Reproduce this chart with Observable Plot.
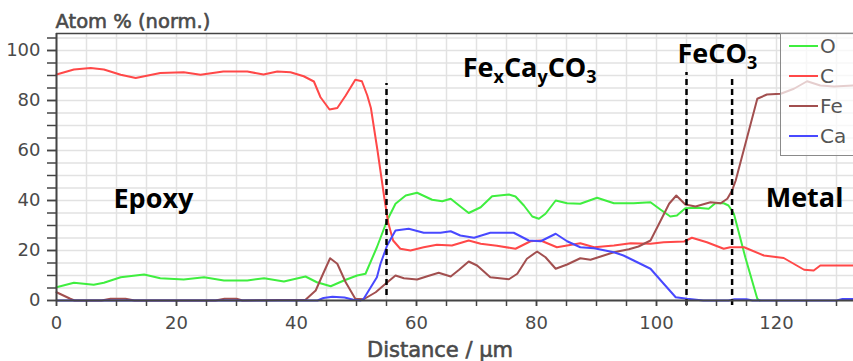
<!DOCTYPE html>
<html>
<head>
<meta charset="utf-8">
<script src="https://cdn.jsdelivr.net/npm/d3@7"></script>
<script src="https://cdn.jsdelivr.net/npm/@observablehq/plot@0.6"></script>
<style>
  html, body { margin: 0; padding: 0; background: #fff; overflow: hidden; }
  #wrap { position: relative; width: 853px; height: 361px; overflow: hidden; }
  #legend { position: absolute; left: 780px; top: 33px; width: 100px; height: 123px;
    border: 1.5px solid #8a8a8a; background: rgba(255,255,255,0.72); box-sizing: border-box;
    font-family: "DejaVu Sans", sans-serif; font-size: 20px; color: #555; }
  .row { position: absolute; left: 0; height: 22px; display: flex; align-items: center; }
  .sw { width: 29px; height: 0; border-top: 2px solid; margin-left: 8px; margin-right: 2px; }
  .semi text { paint-order: stroke; }
</style>
</head>
<body>
<div id="wrap"></div>
<script>
// ---- data ----
const seriesNames = ["O", "C", "Fe", "Ca"];
const seriesColors = ["#3fee3f", "#ff4848", "#a24f4f", "#4848ff"];

const oxygen = [[0,5.3],[2.9,7.1],[6.2,6.3],[7.9,7.1],[10.7,9.3],[14.6,10.4],[17.3,8.9],[21.2,8.4],[24.6,9.3],[27.9,8],[31.8,8],[34.6,8.9],[37.9,7.6],[41.5,9.6],[43.4,7.3],[45.7,5.7],[47.9,8],[50.1,10],[51.5,10.7],[53.4,21.3],[55.1,32],[56.5,38.7],[58.2,42],[60.1,43.1],[62.6,40.3],[64.3,39.7],[65.7,40.7],[67.1,38],[68.7,35],[70.7,37.3],[72.6,41.7],[75.4,42.4],[76.5,41.6],[77.9,38],[79.3,33.6],[80.4,32.7],[81.5,34.7],[83.2,40],[85.1,38.9],[87.3,38.7],[90.1,41.1],[92.9,38.9],[96.2,38.9],[99,39.3],[100.7,36.3],[102.3,33.6],[103.4,34],[104.8,36.9],[106.8,37.1],[108.7,36.7],[109.8,38.9],[111.2,38.9],[112,38],[112.9,34.7],[114.8,17.3],[116.8,0.7],[117.2,0]];

const carbon = [[0,90.4],[2.9,92.4],[5.7,93],[7.9,92.4],[10.7,90.3],[13.2,89],[17.3,91],[21.2,91.3],[24,90.3],[27.8,91.6],[31.8,91.6],[34.5,90.4],[36.8,91.6],[39,91.3],[41.2,89.7],[42.9,87.6],[44,81.3],[45.5,76.4],[46.8,77],[48.2,82],[49.8,88.3],[50.9,87.7],[51.8,82],[52.4,77],[53.5,60],[54.7,40],[55.3,31],[56.1,24],[57.3,20.7],[59,20],[61.2,21.3],[63.4,22.3],[65.9,22],[68.7,24],[70.7,22.7],[73.4,21.9],[76.5,20.7],[79,23.7],[80.7,24],[83.4,21.3],[87.3,22.9],[89.6,21.3],[92.9,22],[95.7,22.9],[99,22.7],[101.2,23.3],[104.6,23.6],[105.9,25.1],[108.4,23.3],[111.2,20.7],[112.3,21.3],[114.6,21.3],[117.9,18],[121.2,17],[124.6,12.3],[126.2,12],[127.3,14],[130.7,14],[133,14]];

const iron = [[0,3.3],[2.3,0.7],[3,0],[7.5,0],[9,0.7],[11.5,0.7],[13,0],[26.5,0],[28,0.7],[30,0.7],[31,0],[41.5,0.3],[43.2,4],[44.3,10],[45.6,16.9],[46.8,14.7],[48.2,7.3],[49.8,0.7],[51.2,0.5],[53.2,3.3],[54.5,6],[56.5,10],[57.9,8.9],[60.1,8.4],[61.8,9.7],[63.7,11.1],[65.7,9.6],[67.1,12.3],[68.7,15.6],[70.1,14],[72.3,9.3],[75.4,8.5],[76.8,10.7],[78.4,16.7],[80.1,19.6],[81.5,17.3],[83.2,12.7],[85.1,14.4],[87.3,16.9],[89,16.3],[90.7,17.6],[92.9,19.3],[95.4,20.5],[97,21.6],[99,24],[100.7,32],[102.1,38.7],[103.3,42],[104.8,38.4],[106.5,37.6],[109,39.3],[110.7,38.9],[111.8,40.7],[112.6,44],[113.2,48],[116.8,80.7],[118.4,82.4],[120.7,82.7],[122.9,84.7],[125.1,87.7],[127.3,86],[129.6,85.6],[133,86]];

const calcium = [[0,0],[43.5,0],[44.5,1],[46,1.5],[48,1.2],[49.5,0.3],[50.7,0],[51.2,0.7],[53.4,9.3],[54,14.7],[55.1,22],[56.5,28],[58.7,28.7],[61.2,27.1],[64,27.1],[65.7,27.7],[67.3,26],[69.6,25.1],[72.3,27.1],[76.2,27.1],[78.7,24],[80.7,23.7],[83.2,26.7],[85.1,23.7],[87.3,21.3],[89.6,20.9],[92.9,19.3],[94.5,18],[96.2,16],[99,12.7],[101.2,6.7],[103.2,1.3],[105.1,0.7],[107.8,0],[112,0],[113,0.5],[115,0.5],[116,0],[130,0],[131,0.6],[133,0.6]];

const boundaryX = [55, 105, 112.6];
const boundaryTop = [86.8, 91.2, 89.6];
const boundaryBottom = [2, -2, -2];

const annotationLabels = ["Epoxy", "Fe_xCa_yCO_3", "FeCO_3", "Metal"];
const annotationX = [9.5, 67.7, 103.5, 118.2];
const annotationY = [37.2, 89.3, 94.9, 37.3];

const xTicks = d3.range(0, 135, 5);
const yTicks = d3.range(0, 110, 5);
const yLabel = "Atom % (norm.)";
const xLabel = "Distance / µm";

// ---- build tables ----
const allSeries = [oxygen, carbon, iron, calcium];
const rows = allSeries.flatMap((s, i) => s.map(([x, y]) => ({x, y, el: seriesNames[i]})));
const boundaries = boundaryX.map((x, i) => ({x, y1: boundaryBottom[i], y2: boundaryTop[i]}));
const annotations = annotationLabels.map((t, i) => ({t, x: annotationX[i], y: annotationY[i]}));

const xMax = (853 - 56) / 6;
const yMax = (300 - 33) / 2.5;
const axisColor = "#444";
const textColor = "#4a4a4a";
const axisFont = "'DejaVu Sans', sans-serif";

const chart = Plot.plot({
  width: 853, height: 361,
  marginLeft: 56, marginRight: 0, marginTop: 33, marginBottom: 61,
  x: {domain: [0, xMax]},
  y: {domain: [0, yMax]},
  color: {domain: seriesNames, range: seriesColors},
  style: {fontFamily: axisFont, background: "#fff", overflow: "visible"},
  marks: [
    Plot.gridX(xTicks, {stroke: "#e2e2e2", strokeOpacity: 1, strokeWidth: 1.5}),
    Plot.gridY(yTicks, {stroke: "#e2e2e2", strokeOpacity: 1, strokeWidth: 1.5}),
    Plot.line(rows, {x: "x", y: "y", z: "el", stroke: "el", strokeWidth: 2}),
    Plot.ruleX(boundaries, {x: "x", y1: "y1", y2: "y2", stroke: "#000", strokeWidth: 2.5, strokeDasharray: "6,4"}),
    Plot.ruleY([0], {stroke: axisColor, strokeWidth: 2}),
    Plot.ruleY([yMax], {stroke: axisColor, strokeWidth: 1.5}),
    Plot.ruleX([0], {stroke: axisColor, strokeWidth: 2}),
    Plot.axisY(yTicks, {tickSize: 9, tickPadding: 7, stroke: axisColor, strokeWidth: 1.5,
      text: null, label: null}),
    Plot.axisY(yTicks.filter(d => d % 20 === 0), {tickSize: 9, tickPadding: 7, stroke: textColor, strokeWidth: 0.6,
      fontSize: 18, fill: textColor, label: null, className: "semi"}),
    Plot.axisX(xTicks, {tickSize: 6, tickPadding: 10, stroke: axisColor, strokeWidth: 1.5,
      text: null, label: null}),
    Plot.axisX(xTicks.filter(d => d % 20 === 0), {tickSize: 6, tickPadding: 10, stroke: textColor, strokeWidth: 0.6,
      fontSize: 18, fill: textColor, label: null, className: "semi"}),
    Plot.text([yLabel], {frameAnchor: "top-left", text: d => d, textAnchor: "start", lineAnchor: "bottom",
      dx: -1, dy: -6, fontSize: 19.5, fill: textColor, stroke: textColor, strokeWidth: 0.6, className: "semi"}),
    Plot.text([xLabel], {frameAnchor: "bottom", text: d => d, textAnchor: "middle", lineAnchor: "bottom",
      dx: -15, dy: 56, fontSize: 21, fill: textColor, stroke: textColor, strokeWidth: 0.6, className: "semi"}),
    Plot.text(annotations, {x: "x", y: "y", text: "t", textAnchor: "start", lineAnchor: "bottom",
      fontFamily: "'Open Sans', sans-serif", fontSize: 27, fontWeight: 700, fill: "#000", className: "annot"})
  ]
});

// axis tick lines of the labelled axes keep normal stroke width
d3.select(chart).selectAll(".semi path").attr("stroke-width", 1.5).attr("stroke", axisColor);

// subscripts in annotations ("_" marks the next character as subscript)
d3.select(chart).selectAll("text").each(function() {
  const s = this.textContent;
  if (!s.includes("_")) return;
  const el = d3.select(this);
  el.text(null);
  let i = 0, sub = false;
  while (i < s.length) {
    if (s[i] === "_") {
      el.append("tspan").attr("font-size", 18).attr("dy", 6).text(s[i + 1]);
      sub = true; i += 2;
    } else {
      let j = i;
      while (j < s.length && s[j] !== "_") j++;
      const t = el.append("tspan").text(s.slice(i, j));
      if (sub) t.attr("dy", -6);
      sub = false; i = j;
    }
  }
});

const wrap = document.getElementById("wrap");
wrap.appendChild(chart);

// legend
const legend = document.createElement("div");
legend.id = "legend";
const rowTops = [1, 31, 61, 91];
seriesNames.forEach((n, i) => {
  const r = document.createElement("div");
  r.className = "row";
  r.style.top = rowTops[i] + "px";
  const sw = document.createElement("div");
  sw.className = "sw";
  sw.style.borderTopColor = seriesColors[i];
  const lab = document.createElement("span");
  lab.textContent = n;
  r.appendChild(sw); r.appendChild(lab);
  legend.appendChild(r);
});
wrap.appendChild(legend);
</script>
</body>
</html>
